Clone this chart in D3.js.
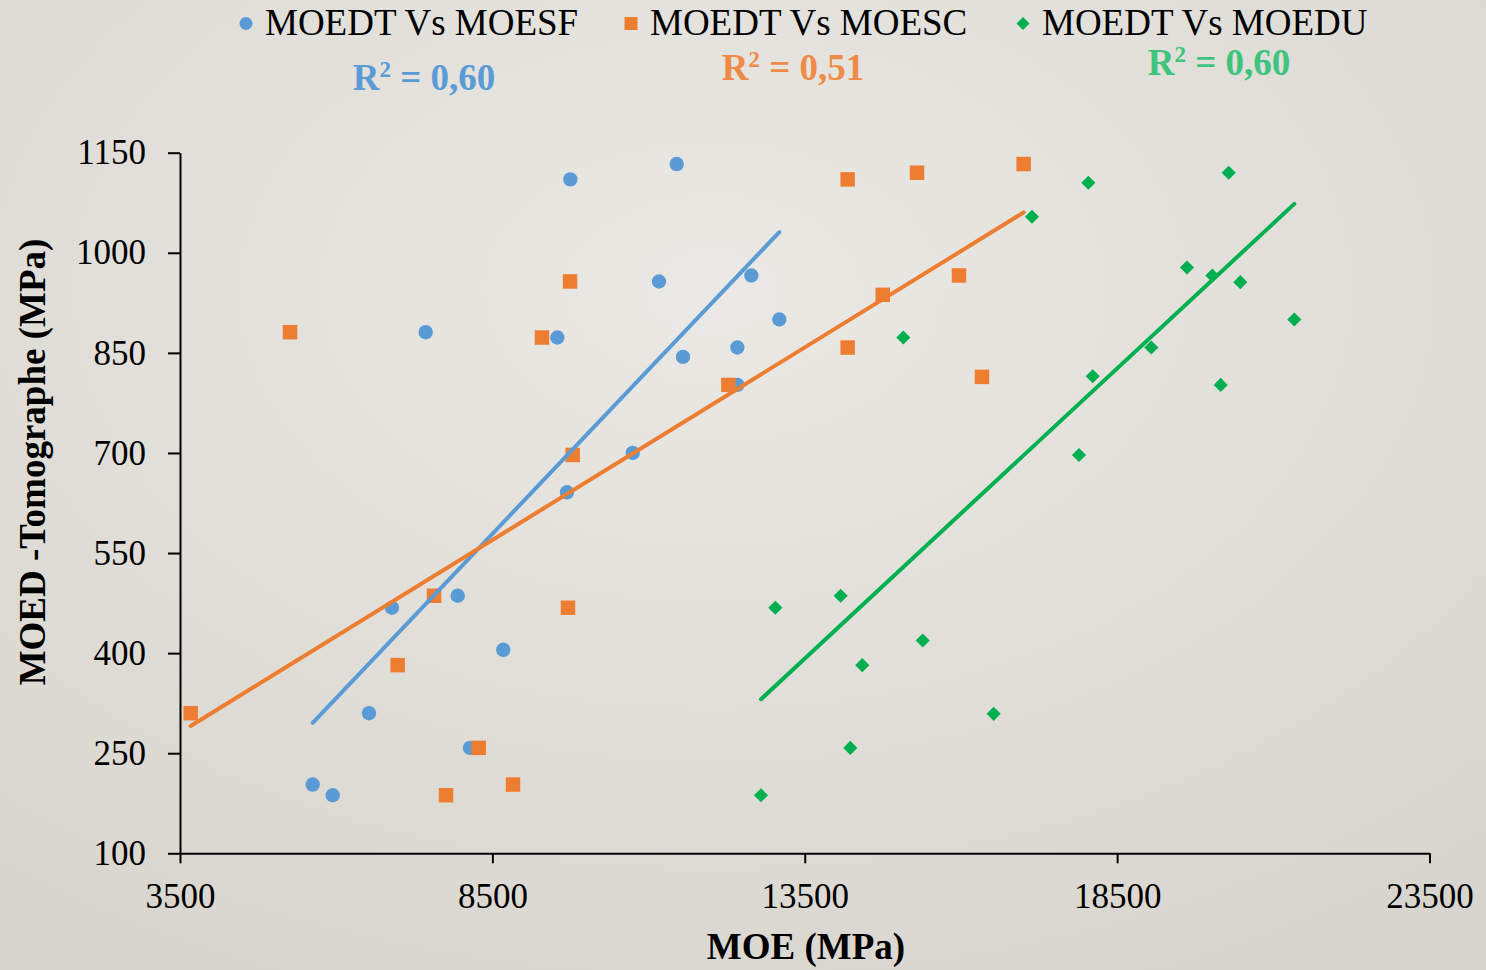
<!DOCTYPE html>
<html>
<head>
<meta charset="utf-8">
<script src="https://cdn.jsdelivr.net/npm/d3@7"></script>
<style>
  html, body { margin: 0; padding: 0; }
  body { width: 1486px; height: 970px; overflow: hidden; }
  text { font-family: "Liberation Serif", "Times New Roman", serif; }
</style>
</head>
<body>
<svg id="chart" width="1486" height="970"></svg>
<script>
// values (MOE in MPa on x, MOED tomographe in MPa on y)
const sfX = [5624, 5944, 6525, 6893, 7945, 8142, 8675, 7433, 9748, 11450, 11167, 9540, 12645, 13093, 12421, 11551, 12421, 10746, 9695];
const sfY = [203, 187, 310, 468, 486, 258, 405, 881, 1110, 1133, 957, 873, 966, 900, 858, 844, 802, 700, 641];

const scX = [3671, 5261, 6984, 7566, 7758, 8281, 9710, 8830, 9294, 9743, 9786, 12277, 14187, 15297, 14748, 14187, 15969, 16337, 17004];
const scY = [310, 881, 382, 486, 187, 258, 468, 203, 873, 957, 697, 802, 1110, 1120, 937, 858, 966, 814, 1133];

const duX = [13029, 14075, 15388, 14421, 14229, 12800, 15078, 16524, 17137, 18039, 20286, 19618, 20024, 20472, 21336, 19047, 18109, 20158, 17890];
const duY = [468, 486, 419, 382, 258, 187, 873, 309, 1054, 1105, 1120, 978, 966, 956, 900, 858, 815, 802, 697];

const seriesNames = ['MOEDT Vs MOESF', 'MOEDT Vs MOESC', 'MOEDT Vs MOEDU'];
const r2Labels = ['0,60', '0,51', '0,60'];
const xTicks = [3500, 8500, 13500, 18500, 23500];
const yTicks = [100, 250, 400, 550, 700, 850, 1000, 1150];

const colors = ['#5b9bd5', '#ed7d31', '#00b050'];
const r2Colors = ['#5b9bd5', '#f08a48', '#3ec47c'];

const svg = d3.select('#chart');

// soft gray radial background
const defs = svg.append('defs');
const grad = defs.append('radialGradient')
    .attr('id', 'bg')
    .attr('cx', '48%').attr('cy', '30%').attr('r', '80%');
grad.append('stop').attr('offset', '0%').attr('stop-color', '#ebe9e5');
grad.append('stop').attr('offset', '100%').attr('stop-color', '#d8d5ce');
svg.append('rect').attr('width', 1486).attr('height', 970).attr('fill', 'url(#bg)');

const x = d3.scaleLinear().domain([3500, 23500]).range([180, 1429.5]);
const y = d3.scaleLinear().domain([100, 1150]).range([853.3, 152.7]);

// axes
const xAxis = svg.append('g')
    .attr('transform', `translate(0,${y(100)})`)
    .call(d3.axisBottom(x).tickValues(xTicks).tickFormat(d3.format('d'))
        .tickSize(10).tickSizeOuter(0).tickPadding(20));
const yAxis = svg.append('g')
    .attr('transform', `translate(${x(3500)},0)`)
    .call(d3.axisLeft(y).tickValues(yTicks).tickFormat(d3.format('d'))
        .tickSize(12).tickSizeOuter(0).tickPadding(22));

[xAxis, yAxis].forEach(function (g) {
    g.selectAll('path, line').attr('stroke', '#000').attr('stroke-width', 2);
    g.selectAll('text')
        .attr('fill', '#000')
        .style('font-family', '"Liberation Serif", "Times New Roman", serif')
        .style('font-size', '35px');
});

// axis titles
svg.append('text')
    .attr('x', 806).attr('y', 959)
    .attr('text-anchor', 'middle')
    .attr('font-weight', 'bold').attr('font-size', 37)
    .text('MOE (MPa)');
svg.append('text')
    .attr('transform', 'translate(45,462) rotate(-90)')
    .attr('text-anchor', 'middle')
    .attr('font-weight', 'bold').attr('font-size', 37)
    .text('MOED -Tomographe (MPa)');

const series = [
    {xs: sfX, ys: sfY},
    {xs: scX, ys: scY},
    {xs: duX, ys: duY}
];

const diamond = d3.symbol().type(d3.symbolSquare).size(100);
const square = d3.symbol().type(d3.symbolSquare).size(210);

function drawMarker(g, i, cx, cy) {
    if (i === 0) {
        g.append('circle').attr('cx', cx).attr('cy', cy).attr('r', 7.2).attr('fill', colors[0]);
    } else if (i === 1) {
        g.append('path').attr('d', square()).attr('transform', `translate(${cx},${cy})`).attr('fill', colors[1]);
    } else {
        g.append('path').attr('d', diamond()).attr('transform', `translate(${cx},${cy}) rotate(45)`).attr('fill', colors[2]);
    }
}

// markers
series.forEach(function (s, i) {
    const g = svg.append('g').attr('class', 'series-' + i);
    s.xs.forEach(function (xv, k) {
        drawMarker(g, i, x(xv), y(s.ys[k]));
    });
});

// linear trend lines (least squares over each series)
function fit(xs, ys) {
    const mx = d3.mean(xs), my = d3.mean(ys);
    let sxy = 0, sxx = 0;
    xs.forEach(function (xv, k) {
        sxy += (xv - mx) * (ys[k] - my);
        sxx += (xv - mx) * (xv - mx);
    });
    const b = sxy / sxx;
    return function (v) { return my + b * (v - mx); };
}

const line = d3.line().x(d => x(d[0])).y(d => y(d[1]));
series.forEach(function (s, i) {
    const f = fit(s.xs, s.ys);
    const ext = d3.extent(s.xs);
    svg.append('path')
        .attr('d', line(ext.map(v => [v, f(v)])))
        .attr('fill', 'none')
        .attr('stroke', colors[i])
        .attr('stroke-width', 4)
        .attr('stroke-linecap', 'round');
});

// legend
const legendX = [265, 650, 1042];
const legend = svg.append('g');
legendX.forEach(function (lx, i) {
    const mx = lx - 19, my = 23.5;
    if (i === 0) {
        legend.append('circle').attr('cx', mx).attr('cy', my).attr('r', 6.5).attr('fill', colors[0]);
    } else if (i === 1) {
        legend.append('rect').attr('x', mx - 6.5).attr('y', my - 6.5).attr('width', 13).attr('height', 13).attr('fill', colors[1]);
    } else {
        legend.append('path').attr('d', d3.symbol().type(d3.symbolSquare).size(85)())
            .attr('transform', `translate(${mx},${my}) rotate(45)`).attr('fill', colors[2]);
    }
    legend.append('text')
        .attr('x', lx).attr('y', 35)
        .attr('font-size', 37).attr('fill', '#000')
        .text(seriesNames[i]);
});

// R² labels
const r2Pos = [[424, 90], [793, 80], [1219, 75]];
r2Pos.forEach(function (p, i) {
    const t = svg.append('text')
        .attr('x', p[0]).attr('y', p[1])
        .attr('text-anchor', 'middle')
        .attr('font-weight', 'bold').attr('font-size', 37)
        .attr('fill', r2Colors[i]);
    t.append('tspan').text('R');
    t.append('tspan').attr('font-size', 23).attr('dy', -13).text('2');
    t.append('tspan').attr('dy', 13).text(' = ' + r2Labels[i]);
});
</script>
</body>
</html>
